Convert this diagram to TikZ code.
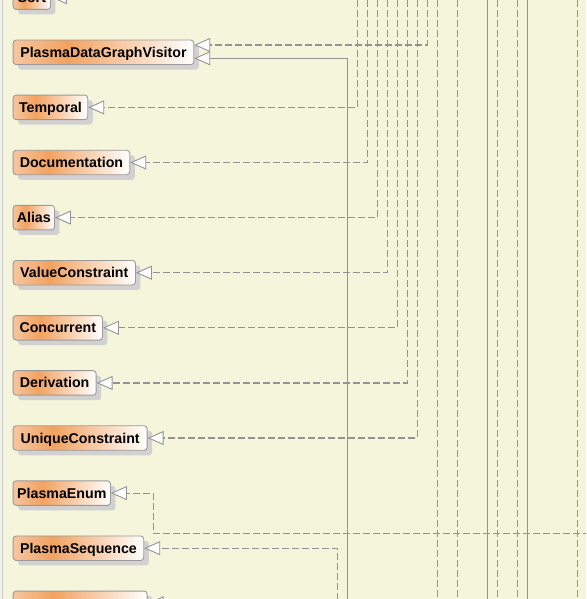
\documentclass[tikz,border=0pt]{standalone}
\usepackage{fontspec}
\setmainfont{Liberation Sans}
\usetikzlibrary{arrows.meta,shadows,calc}
\definecolor{bg}{HTML}{F5F5DC}
\definecolor{ln}{HTML}{939393}
\definecolor{bd}{HTML}{9A9A9A}
\definecolor{cL}{HTML}{F6C6A0}
\definecolor{cM}{HTML}{F2A260}
\definecolor{lft}{HTML}{C5CAE0}
\pgfdeclarehorizontalshading{clsshade}{100bp}{color(0bp)=(cL); color(25bp)=(cL); color(40bp)=(cM); color(75bp)=(white); color(100bp)=(white)}
\begin{document}
\begin{tikzpicture}[x=1pt,y=-1pt,
  clsbox/.style={draw=bd, line width=0.9pt, rounded corners=3pt, shade, shading=clsshade,
    anchor=west, minimum height=24.5pt, inner sep=0pt, text height=10pt, text depth=0pt,
    font=\fontsize{14.2}{16}\selectfont\bfseries,
    drop shadow={shadow xshift=5pt,shadow yshift=-5pt,fill=black!18,opacity=1}},
  gen/.style={draw=ln, line width=1.2pt, -{Triangle[length=16pt,width=14pt,fill=white,line width=0.9pt]}},
  dep/.style={gen, dash pattern=on 7pt off 3pt},
  thru/.style={draw=ln, line width=1.2pt},
  thrudash/.style={thru, dash pattern=on 7pt off 3pt}]
\useasboundingbox (0,0) rectangle (586,599);
\clip (0,0) rectangle (586,599);
\fill[bg] (0,0) rectangle (586,599);
\coordinate (lt) at (2.7,0);
\coordinate (lb) at (2.7,599);
\draw[lft, line width=1.4pt] (lt) -- (lb);

% nodes
\node[clsbox, minimum width=37.3pt] (Sort) at (12.7,-2.8) {Sort};
\node[clsbox, minimum width=180.6pt] (PDGV) at (12.7,52.3) {PlasmaDataGraphVisitor};
\node[clsbox, minimum width=74.6pt] (Temporal) at (12.7,107.4) {Temporal};
\node[clsbox, minimum width=116.6pt] (Documentation) at (12.7,162.5) {Documentation};
\node[clsbox, minimum width=41.3pt] (Alias) at (12.7,217.6) {Alias};
\node[clsbox, minimum width=122.3pt] (ValueConstraint) at (12.7,272.7) {ValueConstraint};
\node[clsbox, minimum width=89.3pt] (Concurrent) at (12.7,327.8) {Concurrent};
\node[clsbox, minimum width=83pt] (Derivation) at (12.7,382.9) {Derivation};
\node[clsbox, minimum width=134pt] (UniqueConstraint) at (12.7,438) {UniqueConstraint};
\node[clsbox, minimum width=97.3pt] (PlasmaEnum) at (12.7,493.1) {PlasmaEnum};
\node[clsbox, minimum width=130.6pt] (PlasmaSequence) at (12.7,548.2) {PlasmaSequence};
\node[clsbox, minimum width=134pt] (Last) at (12.7,603.3) {};

% free ends
\coordinate (sortE) at (620,-2.8);
\coordinate (a427) at (427.3,-10);
\coordinate (s347) at (347.3,620);
\coordinate (a357) at (357.3,-10);
\coordinate (a367) at (367.3,-10);
\coordinate (a377) at (377.3,-10);
\coordinate (a387) at (387.3,-10);
\coordinate (a397) at (397.3,-10);
\coordinate (a407) at (407.3,-10);
\coordinate (a417) at (417.3,-10);
\coordinate (enumE) at (620,533.3);
\coordinate (enumBend) at (153.3,533.3);
\coordinate (seqS) at (337.3,620);
\coordinate (lastE) at (620,603.3);

% connectors
\draw[gen] (sortE) -- (Sort.east);
\draw[dep] (a427) |- ($(PDGV.east)+(0,-7.3)$);
\draw[gen] (s347) |- ($(PDGV.east)+(0,6)$);
\draw[dep] (a357) |- (Temporal.east);
\draw[dep] (a367) |- (Documentation.east);
\draw[dep] (a377) |- (Alias.east);
\draw[dep] (a387) |- (ValueConstraint.east);
\draw[dep] (a397) |- (Concurrent.east);
\draw[dep] (a407) |- (Derivation.east);
\draw[dep] (a417) |- (UniqueConstraint.east);
\draw[dep] (enumE) -- (enumBend) |- (PlasmaEnum.east);
\draw[dep] (seqS) |- (PlasmaSequence.east);
\draw[gen] (lastE) -- (Last.east);

% lines passing through
\foreach \x/\s [count=\i] in {437.3/thrudash, 457.3/thrudash, 487.3/thru, 497.3/thrudash, 517.3/thrudash, 527.3/thru, 577.3/thrudash}{
  \coordinate (top\i) at (\x,-10);
  \coordinate (bot\i) at (\x,620);
  \draw[\s] (top\i) -- (bot\i);
}
\end{tikzpicture}
\end{document}
